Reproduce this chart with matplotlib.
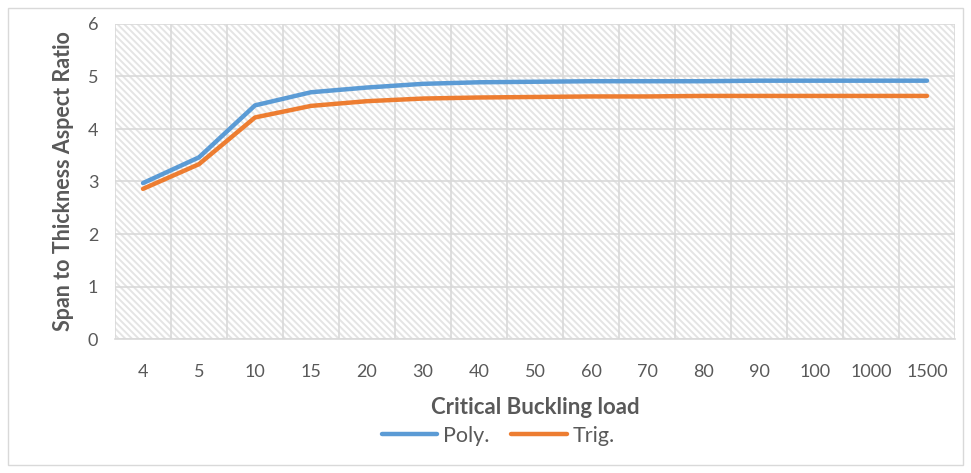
#!/usr/bin/env python3

import matplotlib
matplotlib.use('Agg')
from matplotlib import pyplot as plt
from matplotlib.patches import Rectangle

# Chart data
categories = ['4', '5', '10', '15', '20', '30', '40', '50', '60', '70',
              '80', '90', '100', '1000', '1500']
poly = [2.97, 3.46, 4.45, 4.70, 4.79, 4.86, 4.89, 4.90, 4.91, 4.91,
        4.91, 4.92, 4.92, 4.92, 4.92]
trig = [2.86, 3.33, 4.22, 4.44, 4.53, 4.58, 4.60, 4.61, 4.62, 4.62,
        4.63, 4.63, 4.63, 4.63, 4.63]
y_ticks = [0, 1, 2, 3, 4, 5, 6]

TEXT = '#595959'
GRID = '#d9d9d9'


def plot_lines():
    plt.rcParams['font.family'] = ['Lato', 'DejaVu Sans']
    plt.rcParams['hatch.linewidth'] = 1.4

    fig = plt.figure(figsize=(9.71, 4.73), dpi=100)
    fig.patches.append(Rectangle((8 / 971, 8 / 473), 955 / 971, 457 / 473,
                                 transform=fig.transFigure, fill=False,
                                 edgecolor='#d9d9d9', linewidth=1))

    ax = fig.add_axes([115 / 971, 1 - 339 / 473, 840 / 971, 315 / 473])
    ax.set_facecolor('white')

    # hatched plot area
    ax.add_patch(Rectangle((0, 0), 1, 1, transform=ax.transAxes,
                           facecolor='white', edgecolor='#e4e4e4',
                           hatch='\\' * 5, linewidth=0, zorder=0))

    x = list(range(len(categories)))
    ax.plot(x, poly, color='#5B9BD5', linewidth=3.2, label='Poly.',
            solid_capstyle='round', zorder=3)
    ax.plot(x, trig, color='#ED7D31', linewidth=3.2, label='Trig.',
            solid_capstyle='round', zorder=3)

    ax.set_xlim(-0.5, len(categories) - 0.5)
    ax.set_ylim(0, 6)
    ax.set_xticks(x)
    ax.set_xticklabels(categories)
    ax.set_yticks(y_ticks)
    ax.set_xticks([i - 0.5 for i in range(len(categories) + 1)], minor=True)

    ax.grid(True, axis='y', which='major', color=GRID, linewidth=1.2, zorder=1)
    ax.grid(True, axis='x', which='minor', color=GRID, linewidth=1.2, zorder=1)
    ax.grid(False, axis='x', which='major')
    ax.set_axisbelow(True)

    for s in ['top', 'right', 'left']:
        ax.spines[s].set_visible(False)
    ax.spines['bottom'].set_color(GRID)
    ax.spines['bottom'].set_linewidth(1.2)

    ax.tick_params(axis='both', which='both', length=0, labelsize=13,
                   labelcolor=TEXT)
    ax.tick_params(axis='x', pad=18)
    ax.tick_params(axis='y', pad=12)

    ax.set_xlabel('Critical Buckling load', fontsize=16, fontweight='bold',
                  color=TEXT, labelpad=12)
    ax.set_ylabel('Span to Thickness Aspect Ratio', fontsize=15.5,
                  fontweight='bold', color=TEXT, labelpad=10)

    fig.legend(loc='center', bbox_to_anchor=(498 / 971, 1 - 436 / 473),
               ncol=2, frameon=False, fontsize=15.5, handlelength=2.6,
               columnspacing=1.0, handletextpad=0.25, labelcolor=TEXT,
               borderpad=0.2)

    fig.savefig('out.png', dpi=100)


def main():
    plot_lines()


if __name__ == "__main__":
    main()
